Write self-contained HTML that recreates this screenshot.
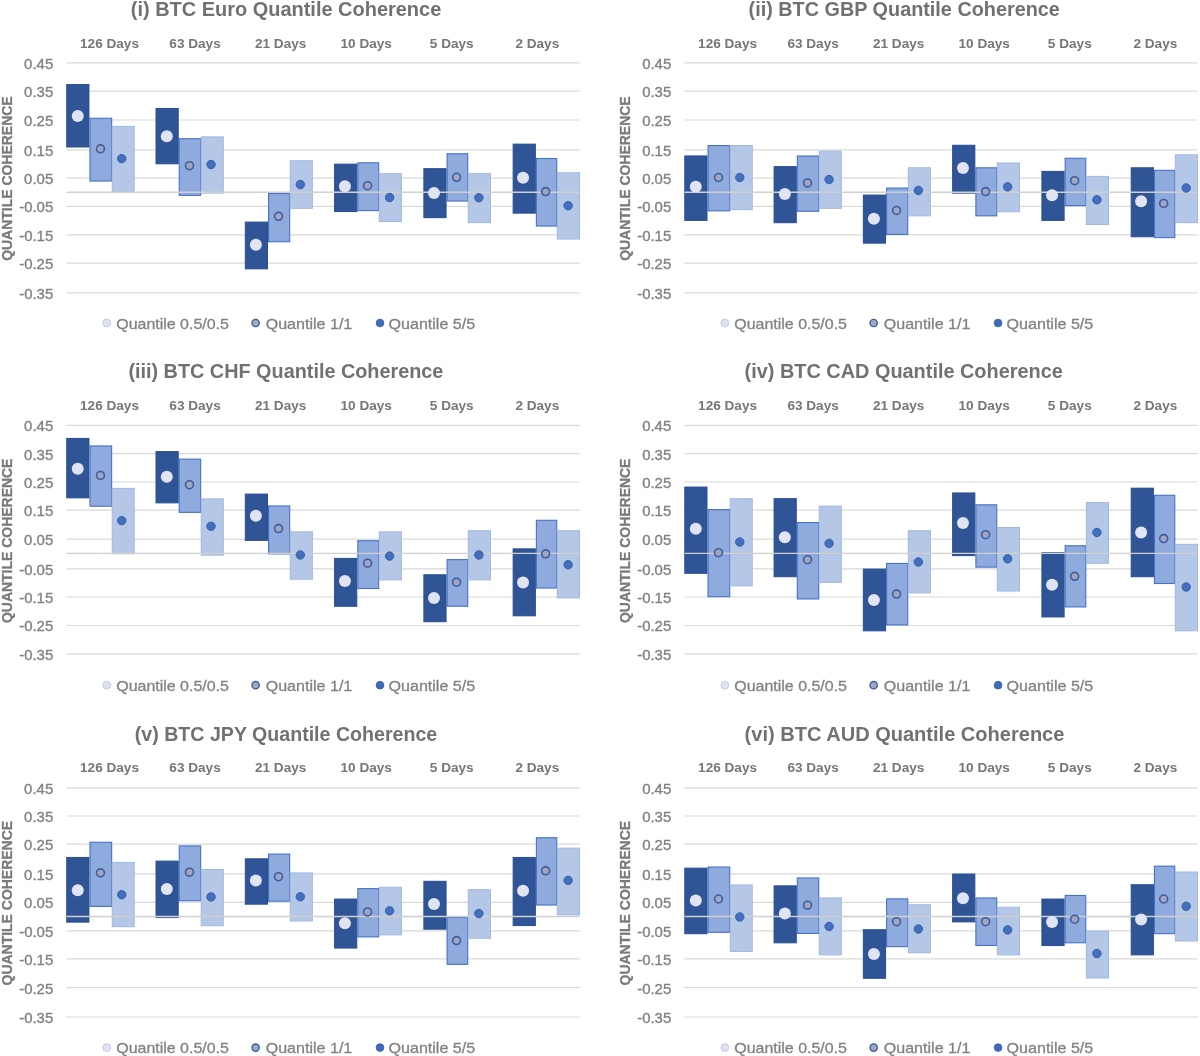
<!DOCTYPE html>
<html><head><meta charset="utf-8"><title>BTC Quantile Coherence</title>
<style>
html,body{margin:0;padding:0;background:#fff;}
body{width:1200px;height:1056px;overflow:hidden;}
svg{display:block;will-change:transform;}
text{font-family:"Liberation Sans",sans-serif;}
.ttl{font-size:20px;font-weight:bold;fill:#717171;}
.cat{font-size:13px;font-weight:bold;fill:#767676;}
.tick{font-size:14.5px;fill:#828282;stroke:#828282;stroke-width:0.35px;}
.leg{font-size:15px;fill:#828282;stroke:#828282;stroke-width:0.3px;}
.yt{font-size:15px;font-weight:bold;fill:#7A7A7A;stroke:#7A7A7A;stroke-width:0.3px;}
.grid{stroke:#D9D9D9;stroke-width:1.2;}
.axis{stroke:#D0D0D0;stroke-width:1.4;}
</style></head>
<body>
<svg width="1200" height="1056" viewBox="0 0 1200 1056">
<rect width="1200" height="1056" fill="#fff"/>
<g>
<text class="ttl" x="286" y="16.1" text-anchor="middle" textLength="310.5" lengthAdjust="spacingAndGlyphs">(i) BTC Euro Quantile Coherence</text>
<text class="cat" x="109.5" y="47.8" text-anchor="middle" textLength="58.92" lengthAdjust="spacingAndGlyphs">126 Days</text>
<text class="cat" x="195.06" y="47.8" text-anchor="middle" textLength="51.36" lengthAdjust="spacingAndGlyphs">63 Days</text>
<text class="cat" x="280.62" y="47.8" text-anchor="middle" textLength="51.36" lengthAdjust="spacingAndGlyphs">21 Days</text>
<text class="cat" x="366.18" y="47.8" text-anchor="middle" textLength="51.36" lengthAdjust="spacingAndGlyphs">10 Days</text>
<text class="cat" x="451.74" y="47.8" text-anchor="middle" textLength="43.81" lengthAdjust="spacingAndGlyphs">5 Days</text>
<text class="cat" x="537.3" y="47.8" text-anchor="middle" textLength="43.81" lengthAdjust="spacingAndGlyphs">2 Days</text>
<line class="grid" x1="66.5" x2="579.5" y1="62.95" y2="62.95"/>
<text class="tick" x="53.2" y="68.85" text-anchor="end" textLength="29.07" lengthAdjust="spacingAndGlyphs">0.45</text>
<line class="grid" x1="66.5" x2="579.5" y1="91.2" y2="91.2"/>
<text class="tick" x="53.2" y="97.1" text-anchor="end" textLength="29.07" lengthAdjust="spacingAndGlyphs">0.35</text>
<line class="grid" x1="66.5" x2="579.5" y1="120" y2="120"/>
<text class="tick" x="53.2" y="125.9" text-anchor="end" textLength="29.07" lengthAdjust="spacingAndGlyphs">0.25</text>
<line class="grid" x1="66.5" x2="579.5" y1="149.94" y2="149.94"/>
<text class="tick" x="53.2" y="155.84" text-anchor="end" textLength="29.07" lengthAdjust="spacingAndGlyphs">0.15</text>
<line class="grid" x1="66.5" x2="579.5" y1="178.2" y2="178.2"/>
<text class="tick" x="53.2" y="184.1" text-anchor="end" textLength="29.07" lengthAdjust="spacingAndGlyphs">0.05</text>
<line class="grid" x1="66.5" x2="579.5" y1="206.4" y2="206.4"/>
<text class="tick" x="53.2" y="212.3" text-anchor="end" textLength="34.04" lengthAdjust="spacingAndGlyphs">-0.05</text>
<line class="grid" x1="66.5" x2="579.5" y1="234.94" y2="234.94"/>
<text class="tick" x="53.2" y="240.84" text-anchor="end" textLength="34.04" lengthAdjust="spacingAndGlyphs">-0.15</text>
<line class="grid" x1="66.5" x2="579.5" y1="263.1" y2="263.1"/>
<text class="tick" x="53.2" y="269" text-anchor="end" textLength="34.04" lengthAdjust="spacingAndGlyphs">-0.25</text>
<line class="grid" x1="66.5" x2="579.5" y1="292.8" y2="292.8"/>
<text class="tick" x="53.2" y="298.7" text-anchor="end" textLength="34.04" lengthAdjust="spacingAndGlyphs">-0.35</text>
<rect x="66.74" y="84.59" width="22.2" height="62.41" fill="#2F5597" stroke="#284D93" stroke-width="1"/>
<rect x="89.99" y="118.28" width="21.67" height="62.76" fill="#8FAADC" stroke="#4472C4" stroke-width="1.1"/>
<rect x="112.21" y="126.41" width="21.99" height="64.91" fill="#B4C7E7" stroke="#A2B7E1" stroke-width="1"/>
<rect x="156.02" y="108.45" width="22.2" height="55.36" fill="#2F5597" stroke="#284D93" stroke-width="1"/>
<rect x="179.27" y="138.73" width="21.4" height="56.63" fill="#8FAADC" stroke="#4472C4" stroke-width="1.1"/>
<rect x="201.22" y="136.86" width="22.05" height="56.27" fill="#B4C7E7" stroke="#A2B7E1" stroke-width="1"/>
<rect x="245.31" y="222.09" width="22.2" height="46.73" fill="#2F5597" stroke="#284D93" stroke-width="1"/>
<rect x="268.56" y="193.5" width="21.13" height="48.22" fill="#8FAADC" stroke="#4472C4" stroke-width="1.1"/>
<rect x="290.24" y="160.73" width="22.1" height="47.64" fill="#B4C7E7" stroke="#A2B7E1" stroke-width="1"/>
<rect x="334.59" y="164.14" width="22.2" height="47.41" fill="#2F5597" stroke="#284D93" stroke-width="1"/>
<rect x="357.84" y="162.82" width="20.86" height="47.76" fill="#8FAADC" stroke="#4472C4" stroke-width="1.1"/>
<rect x="379.25" y="173.68" width="22.16" height="47.86" fill="#B4C7E7" stroke="#A2B7E1" stroke-width="1"/>
<rect x="423.87" y="168.68" width="22.2" height="49" fill="#2F5597" stroke="#284D93" stroke-width="1"/>
<rect x="447.12" y="153.73" width="20.59" height="47.31" fill="#8FAADC" stroke="#4472C4" stroke-width="1.1"/>
<rect x="468.27" y="173.68" width="22.21" height="49" fill="#B4C7E7" stroke="#A2B7E1" stroke-width="1"/>
<rect x="513.15" y="144.14" width="22.2" height="69" fill="#2F5597" stroke="#284D93" stroke-width="1"/>
<rect x="536.4" y="158.5" width="20.33" height="67.54" fill="#8FAADC" stroke="#4472C4" stroke-width="1.1"/>
<rect x="557.28" y="172.77" width="22.27" height="66.27" fill="#B4C7E7" stroke="#A2B7E1" stroke-width="1"/>
<line class="axis" x1="66.5" x2="579.5" y1="192.3" y2="192.3"/>
<circle cx="77.74" cy="115.91" r="6" fill="#E1E4F2"/>
<circle cx="100.44" cy="148.86" r="3.95" fill="#A0A5C2" stroke="#3F5C9C" stroke-width="1.6"/>
<circle cx="121.74" cy="158.64" r="4.2" fill="#4270BE" stroke="#345EA8" stroke-width="1"/>
<circle cx="166.8" cy="136.14" r="6" fill="#E1E4F2"/>
<circle cx="189.48" cy="165.68" r="3.95" fill="#A0A5C2" stroke="#3F5C9C" stroke-width="1.6"/>
<circle cx="211.02" cy="164.55" r="4.2" fill="#4270BE" stroke="#345EA8" stroke-width="1"/>
<circle cx="255.87" cy="244.77" r="6" fill="#E1E4F2"/>
<circle cx="278.53" cy="216.36" r="3.95" fill="#A0A5C2" stroke="#3F5C9C" stroke-width="1.6"/>
<circle cx="300.31" cy="184.55" r="4.2" fill="#4270BE" stroke="#345EA8" stroke-width="1"/>
<circle cx="344.93" cy="186.36" r="6" fill="#E1E4F2"/>
<circle cx="367.57" cy="185.68" r="3.95" fill="#A0A5C2" stroke="#3F5C9C" stroke-width="1.6"/>
<circle cx="389.59" cy="197.5" r="4.2" fill="#4270BE" stroke="#345EA8" stroke-width="1"/>
<circle cx="433.99" cy="192.95" r="6" fill="#E1E4F2"/>
<circle cx="456.61" cy="177.27" r="3.95" fill="#A0A5C2" stroke="#3F5C9C" stroke-width="1.6"/>
<circle cx="478.87" cy="197.73" r="4.2" fill="#4270BE" stroke="#345EA8" stroke-width="1"/>
<circle cx="523.06" cy="177.73" r="6" fill="#E1E4F2"/>
<circle cx="545.65" cy="191.59" r="3.95" fill="#A0A5C2" stroke="#3F5C9C" stroke-width="1.6"/>
<circle cx="568.15" cy="205.68" r="4.2" fill="#4270BE" stroke="#345EA8" stroke-width="1"/>
<text class="yt" transform="translate(11.9,178.6) rotate(-90)" text-anchor="middle" textLength="164.5" lengthAdjust="spacingAndGlyphs">QUANTILE COHERENCE</text>
<circle cx="106.8" cy="323" r="3.9" fill="#DFE2F1" stroke="#C5CBE6" stroke-width="1"/>
<text class="leg" x="116.3" y="328.7" textLength="112.6" lengthAdjust="spacingAndGlyphs">Quantile 0.5/0.5</text>
<circle cx="255.6" cy="323" r="3.65" fill="#A0A8C8" stroke="#3F5FA0" stroke-width="1.4"/>
<text class="leg" x="265.7" y="328.7" textLength="86.6" lengthAdjust="spacingAndGlyphs">Quantile 1/1</text>
<circle cx="380" cy="323" r="3.85" fill="#3F6BBA" stroke="#2F5AA8" stroke-width="0.8"/>
<text class="leg" x="388.5" y="328.7" textLength="86.7" lengthAdjust="spacingAndGlyphs">Quantile 5/5</text>
</g>
<g>
<text class="ttl" x="904.2" y="16.1" text-anchor="middle" textLength="311.2" lengthAdjust="spacingAndGlyphs">(ii) BTC GBP Quantile Coherence</text>
<text class="cat" x="727.55" y="47.8" text-anchor="middle" textLength="58.92" lengthAdjust="spacingAndGlyphs">126 Days</text>
<text class="cat" x="813.11" y="47.8" text-anchor="middle" textLength="51.36" lengthAdjust="spacingAndGlyphs">63 Days</text>
<text class="cat" x="898.67" y="47.8" text-anchor="middle" textLength="51.36" lengthAdjust="spacingAndGlyphs">21 Days</text>
<text class="cat" x="984.23" y="47.8" text-anchor="middle" textLength="51.36" lengthAdjust="spacingAndGlyphs">10 Days</text>
<text class="cat" x="1069.79" y="47.8" text-anchor="middle" textLength="43.81" lengthAdjust="spacingAndGlyphs">5 Days</text>
<text class="cat" x="1155.35" y="47.8" text-anchor="middle" textLength="43.81" lengthAdjust="spacingAndGlyphs">2 Days</text>
<line class="grid" x1="684.55" x2="1197.55" y1="62.95" y2="62.95"/>
<text class="tick" x="671.25" y="68.85" text-anchor="end" textLength="29.07" lengthAdjust="spacingAndGlyphs">0.45</text>
<line class="grid" x1="684.55" x2="1197.55" y1="91.2" y2="91.2"/>
<text class="tick" x="671.25" y="97.1" text-anchor="end" textLength="29.07" lengthAdjust="spacingAndGlyphs">0.35</text>
<line class="grid" x1="684.55" x2="1197.55" y1="120" y2="120"/>
<text class="tick" x="671.25" y="125.9" text-anchor="end" textLength="29.07" lengthAdjust="spacingAndGlyphs">0.25</text>
<line class="grid" x1="684.55" x2="1197.55" y1="149.94" y2="149.94"/>
<text class="tick" x="671.25" y="155.84" text-anchor="end" textLength="29.07" lengthAdjust="spacingAndGlyphs">0.15</text>
<line class="grid" x1="684.55" x2="1197.55" y1="178.2" y2="178.2"/>
<text class="tick" x="671.25" y="184.1" text-anchor="end" textLength="29.07" lengthAdjust="spacingAndGlyphs">0.05</text>
<line class="grid" x1="684.55" x2="1197.55" y1="206.4" y2="206.4"/>
<text class="tick" x="671.25" y="212.3" text-anchor="end" textLength="34.04" lengthAdjust="spacingAndGlyphs">-0.05</text>
<line class="grid" x1="684.55" x2="1197.55" y1="234.94" y2="234.94"/>
<text class="tick" x="671.25" y="240.84" text-anchor="end" textLength="34.04" lengthAdjust="spacingAndGlyphs">-0.15</text>
<line class="grid" x1="684.55" x2="1197.55" y1="263.1" y2="263.1"/>
<text class="tick" x="671.25" y="269" text-anchor="end" textLength="34.04" lengthAdjust="spacingAndGlyphs">-0.25</text>
<line class="grid" x1="684.55" x2="1197.55" y1="292.8" y2="292.8"/>
<text class="tick" x="671.25" y="298.7" text-anchor="end" textLength="34.04" lengthAdjust="spacingAndGlyphs">-0.35</text>
<rect x="684.79" y="155.95" width="22.2" height="64.45" fill="#2F5597" stroke="#284D93" stroke-width="1"/>
<rect x="708.04" y="145.55" width="21.67" height="65.26" fill="#8FAADC" stroke="#4472C4" stroke-width="1.1"/>
<rect x="730.26" y="145.5" width="21.99" height="64.23" fill="#B4C7E7" stroke="#A2B7E1" stroke-width="1"/>
<rect x="774.07" y="166.64" width="22.2" height="56.05" fill="#2F5597" stroke="#284D93" stroke-width="1"/>
<rect x="797.32" y="156" width="21.4" height="55.26" fill="#8FAADC" stroke="#4472C4" stroke-width="1.1"/>
<rect x="819.27" y="151.18" width="22.05" height="57.18" fill="#B4C7E7" stroke="#A2B7E1" stroke-width="1"/>
<rect x="863.36" y="195.05" width="22.2" height="48.09" fill="#2F5597" stroke="#284D93" stroke-width="1"/>
<rect x="886.61" y="188.05" width="21.13" height="46.4" fill="#8FAADC" stroke="#4472C4" stroke-width="1.1"/>
<rect x="908.29" y="167.77" width="22.1" height="48.09" fill="#B4C7E7" stroke="#A2B7E1" stroke-width="1"/>
<rect x="952.64" y="145.27" width="22.2" height="47.86" fill="#2F5597" stroke="#284D93" stroke-width="1"/>
<rect x="975.89" y="167.82" width="20.86" height="47.99" fill="#8FAADC" stroke="#4472C4" stroke-width="1.1"/>
<rect x="997.3" y="163" width="22.16" height="48.77" fill="#B4C7E7" stroke="#A2B7E1" stroke-width="1"/>
<rect x="1041.92" y="171.41" width="22.2" height="49" fill="#2F5597" stroke="#284D93" stroke-width="1"/>
<rect x="1065.17" y="158.28" width="20.59" height="47.31" fill="#8FAADC" stroke="#4472C4" stroke-width="1.1"/>
<rect x="1086.32" y="176.41" width="22.21" height="48.09" fill="#B4C7E7" stroke="#A2B7E1" stroke-width="1"/>
<rect x="1131.2" y="167.77" width="22.2" height="69" fill="#2F5597" stroke="#284D93" stroke-width="1"/>
<rect x="1154.45" y="170.32" width="20.33" height="67.31" fill="#8FAADC" stroke="#4472C4" stroke-width="1.1"/>
<rect x="1175.33" y="154.82" width="22.27" height="67.86" fill="#B4C7E7" stroke="#A2B7E1" stroke-width="1"/>
<line class="axis" x1="684.55" x2="1197.55" y1="192.3" y2="192.3"/>
<circle cx="695.79" cy="186.82" r="6" fill="#E1E4F2"/>
<circle cx="718.49" cy="177.5" r="3.95" fill="#A0A5C2" stroke="#3F5C9C" stroke-width="1.6"/>
<circle cx="739.79" cy="177.5" r="4.2" fill="#4270BE" stroke="#345EA8" stroke-width="1"/>
<circle cx="784.85" cy="194.09" r="6" fill="#E1E4F2"/>
<circle cx="807.53" cy="182.95" r="3.95" fill="#A0A5C2" stroke="#3F5C9C" stroke-width="1.6"/>
<circle cx="829.07" cy="179.55" r="4.2" fill="#4270BE" stroke="#345EA8" stroke-width="1"/>
<circle cx="873.92" cy="218.64" r="6" fill="#E1E4F2"/>
<circle cx="896.58" cy="210.45" r="3.95" fill="#A0A5C2" stroke="#3F5C9C" stroke-width="1.6"/>
<circle cx="918.36" cy="190.45" r="4.2" fill="#4270BE" stroke="#345EA8" stroke-width="1"/>
<circle cx="962.98" cy="167.95" r="6" fill="#E1E4F2"/>
<circle cx="985.62" cy="191.59" r="3.95" fill="#A0A5C2" stroke="#3F5C9C" stroke-width="1.6"/>
<circle cx="1007.64" cy="186.82" r="4.2" fill="#4270BE" stroke="#345EA8" stroke-width="1"/>
<circle cx="1052.04" cy="195.23" r="6" fill="#E1E4F2"/>
<circle cx="1074.66" cy="180.68" r="3.95" fill="#A0A5C2" stroke="#3F5C9C" stroke-width="1.6"/>
<circle cx="1096.92" cy="199.77" r="4.2" fill="#4270BE" stroke="#345EA8" stroke-width="1"/>
<circle cx="1141.11" cy="201.14" r="6" fill="#E1E4F2"/>
<circle cx="1163.7" cy="203.41" r="3.95" fill="#A0A5C2" stroke="#3F5C9C" stroke-width="1.6"/>
<circle cx="1186.2" cy="187.95" r="4.2" fill="#4270BE" stroke="#345EA8" stroke-width="1"/>
<text class="yt" transform="translate(629.95,178.6) rotate(-90)" text-anchor="middle" textLength="164.5" lengthAdjust="spacingAndGlyphs">QUANTILE COHERENCE</text>
<circle cx="724.85" cy="323" r="3.9" fill="#DFE2F1" stroke="#C5CBE6" stroke-width="1"/>
<text class="leg" x="734.35" y="328.7" textLength="112.6" lengthAdjust="spacingAndGlyphs">Quantile 0.5/0.5</text>
<circle cx="873.65" cy="323" r="3.65" fill="#A0A8C8" stroke="#3F5FA0" stroke-width="1.4"/>
<text class="leg" x="883.75" y="328.7" textLength="86.6" lengthAdjust="spacingAndGlyphs">Quantile 1/1</text>
<circle cx="998.05" cy="323" r="3.85" fill="#3F6BBA" stroke="#2F5AA8" stroke-width="0.8"/>
<text class="leg" x="1006.55" y="328.7" textLength="86.7" lengthAdjust="spacingAndGlyphs">Quantile 5/5</text>
</g>
<g>
<text class="ttl" x="285.9" y="378.3" text-anchor="middle" textLength="315" lengthAdjust="spacingAndGlyphs">(iii) BTC CHF Quantile Coherence</text>
<text class="cat" x="109.5" y="410" text-anchor="middle" textLength="58.92" lengthAdjust="spacingAndGlyphs">126 Days</text>
<text class="cat" x="195.06" y="410" text-anchor="middle" textLength="51.36" lengthAdjust="spacingAndGlyphs">63 Days</text>
<text class="cat" x="280.62" y="410" text-anchor="middle" textLength="51.36" lengthAdjust="spacingAndGlyphs">21 Days</text>
<text class="cat" x="366.18" y="410" text-anchor="middle" textLength="51.36" lengthAdjust="spacingAndGlyphs">10 Days</text>
<text class="cat" x="451.74" y="410" text-anchor="middle" textLength="43.81" lengthAdjust="spacingAndGlyphs">5 Days</text>
<text class="cat" x="537.3" y="410" text-anchor="middle" textLength="43.81" lengthAdjust="spacingAndGlyphs">2 Days</text>
<line class="grid" x1="66.5" x2="579.5" y1="425.4" y2="425.4"/>
<text class="tick" x="53.2" y="431.3" text-anchor="end" textLength="29.07" lengthAdjust="spacingAndGlyphs">0.45</text>
<line class="grid" x1="66.5" x2="579.5" y1="453.6" y2="453.6"/>
<text class="tick" x="53.2" y="459.5" text-anchor="end" textLength="29.07" lengthAdjust="spacingAndGlyphs">0.35</text>
<line class="grid" x1="66.5" x2="579.5" y1="482" y2="482"/>
<text class="tick" x="53.2" y="487.9" text-anchor="end" textLength="29.07" lengthAdjust="spacingAndGlyphs">0.25</text>
<line class="grid" x1="66.5" x2="579.5" y1="510.2" y2="510.2"/>
<text class="tick" x="53.2" y="516.1" text-anchor="end" textLength="29.07" lengthAdjust="spacingAndGlyphs">0.15</text>
<line class="grid" x1="66.5" x2="579.5" y1="539.2" y2="539.2"/>
<text class="tick" x="53.2" y="545.1" text-anchor="end" textLength="29.07" lengthAdjust="spacingAndGlyphs">0.05</text>
<line class="grid" x1="66.5" x2="579.5" y1="568.8" y2="568.8"/>
<text class="tick" x="53.2" y="574.7" text-anchor="end" textLength="34.04" lengthAdjust="spacingAndGlyphs">-0.05</text>
<line class="grid" x1="66.5" x2="579.5" y1="597" y2="597"/>
<text class="tick" x="53.2" y="602.9" text-anchor="end" textLength="34.04" lengthAdjust="spacingAndGlyphs">-0.15</text>
<line class="grid" x1="66.5" x2="579.5" y1="625.5" y2="625.5"/>
<text class="tick" x="53.2" y="631.4" text-anchor="end" textLength="34.04" lengthAdjust="spacingAndGlyphs">-0.25</text>
<line class="grid" x1="66.5" x2="579.5" y1="653.8" y2="653.8"/>
<text class="tick" x="53.2" y="659.7" text-anchor="end" textLength="34.04" lengthAdjust="spacingAndGlyphs">-0.35</text>
<rect x="66.74" y="438.41" width="22.2" height="59.45" fill="#2F5597" stroke="#284D93" stroke-width="1"/>
<rect x="89.99" y="445.96" width="21.67" height="60.26" fill="#8FAADC" stroke="#4472C4" stroke-width="1.1"/>
<rect x="112.21" y="488.41" width="21.99" height="65.36" fill="#B4C7E7" stroke="#A2B7E1" stroke-width="1"/>
<rect x="156.02" y="451.59" width="22.2" height="51.27" fill="#2F5597" stroke="#284D93" stroke-width="1"/>
<rect x="179.27" y="459.14" width="21.4" height="53.22" fill="#8FAADC" stroke="#4472C4" stroke-width="1.1"/>
<rect x="201.22" y="498.86" width="22.05" height="56.27" fill="#B4C7E7" stroke="#A2B7E1" stroke-width="1"/>
<rect x="245.31" y="494.09" width="22.2" height="46.27" fill="#2F5597" stroke="#284D93" stroke-width="1"/>
<rect x="268.56" y="505.96" width="21.13" height="47.99" fill="#8FAADC" stroke="#4472C4" stroke-width="1.1"/>
<rect x="290.24" y="531.82" width="22.1" height="47.41" fill="#B4C7E7" stroke="#A2B7E1" stroke-width="1"/>
<rect x="334.59" y="558.41" width="22.2" height="47.86" fill="#2F5597" stroke="#284D93" stroke-width="1"/>
<rect x="357.84" y="540.73" width="20.86" height="47.76" fill="#8FAADC" stroke="#4472C4" stroke-width="1.1"/>
<rect x="379.25" y="531.82" width="22.16" height="48.09" fill="#B4C7E7" stroke="#A2B7E1" stroke-width="1"/>
<rect x="423.87" y="574.77" width="22.2" height="46.95" fill="#2F5597" stroke="#284D93" stroke-width="1"/>
<rect x="447.12" y="559.6" width="20.59" height="46.63" fill="#8FAADC" stroke="#4472C4" stroke-width="1.1"/>
<rect x="468.27" y="530.68" width="22.21" height="49.23" fill="#B4C7E7" stroke="#A2B7E1" stroke-width="1"/>
<rect x="513.15" y="548.86" width="22.2" height="66.95" fill="#2F5597" stroke="#284D93" stroke-width="1"/>
<rect x="536.4" y="520.28" width="20.33" height="67.76" fill="#8FAADC" stroke="#4472C4" stroke-width="1.1"/>
<rect x="557.28" y="530.68" width="22.27" height="67.18" fill="#B4C7E7" stroke="#A2B7E1" stroke-width="1"/>
<line class="axis" x1="66.5" x2="579.5" y1="553.4" y2="553.4"/>
<circle cx="77.74" cy="468.82" r="6" fill="#E1E4F2"/>
<circle cx="100.44" cy="475.41" r="3.95" fill="#A0A5C2" stroke="#3F5C9C" stroke-width="1.6"/>
<circle cx="121.74" cy="520.64" r="4.2" fill="#4270BE" stroke="#345EA8" stroke-width="1"/>
<circle cx="166.8" cy="476.77" r="6" fill="#E1E4F2"/>
<circle cx="189.48" cy="484.73" r="3.95" fill="#A0A5C2" stroke="#3F5C9C" stroke-width="1.6"/>
<circle cx="211.02" cy="526.32" r="4.2" fill="#4270BE" stroke="#345EA8" stroke-width="1"/>
<circle cx="255.87" cy="515.86" r="6" fill="#E1E4F2"/>
<circle cx="278.53" cy="528.59" r="3.95" fill="#A0A5C2" stroke="#3F5C9C" stroke-width="1.6"/>
<circle cx="300.31" cy="554.95" r="4.2" fill="#4270BE" stroke="#345EA8" stroke-width="1"/>
<circle cx="344.93" cy="581.09" r="6" fill="#E1E4F2"/>
<circle cx="367.57" cy="563.14" r="3.95" fill="#A0A5C2" stroke="#3F5C9C" stroke-width="1.6"/>
<circle cx="389.59" cy="556.09" r="4.2" fill="#4270BE" stroke="#345EA8" stroke-width="1"/>
<circle cx="433.99" cy="597.91" r="6" fill="#E1E4F2"/>
<circle cx="456.61" cy="582.23" r="3.95" fill="#A0A5C2" stroke="#3F5C9C" stroke-width="1.6"/>
<circle cx="478.87" cy="554.95" r="4.2" fill="#4270BE" stroke="#345EA8" stroke-width="1"/>
<circle cx="523.06" cy="582.45" r="6" fill="#E1E4F2"/>
<circle cx="545.65" cy="553.82" r="3.95" fill="#A0A5C2" stroke="#3F5C9C" stroke-width="1.6"/>
<circle cx="568.15" cy="564.73" r="4.2" fill="#4270BE" stroke="#345EA8" stroke-width="1"/>
<text class="yt" transform="translate(11.9,540.8) rotate(-90)" text-anchor="middle" textLength="164.5" lengthAdjust="spacingAndGlyphs">QUANTILE COHERENCE</text>
<circle cx="106.8" cy="685.2" r="3.9" fill="#DFE2F1" stroke="#C5CBE6" stroke-width="1"/>
<text class="leg" x="116.3" y="690.9" textLength="112.6" lengthAdjust="spacingAndGlyphs">Quantile 0.5/0.5</text>
<circle cx="255.6" cy="685.2" r="3.65" fill="#A0A8C8" stroke="#3F5FA0" stroke-width="1.4"/>
<text class="leg" x="265.7" y="690.9" textLength="86.6" lengthAdjust="spacingAndGlyphs">Quantile 1/1</text>
<circle cx="380" cy="685.2" r="3.85" fill="#3F6BBA" stroke="#2F5AA8" stroke-width="0.8"/>
<text class="leg" x="388.5" y="690.9" textLength="86.7" lengthAdjust="spacingAndGlyphs">Quantile 5/5</text>
</g>
<g>
<text class="ttl" x="903.7" y="378.3" text-anchor="middle" textLength="318.2" lengthAdjust="spacingAndGlyphs">(iv) BTC CAD Quantile Coherence</text>
<text class="cat" x="727.55" y="410" text-anchor="middle" textLength="58.92" lengthAdjust="spacingAndGlyphs">126 Days</text>
<text class="cat" x="813.11" y="410" text-anchor="middle" textLength="51.36" lengthAdjust="spacingAndGlyphs">63 Days</text>
<text class="cat" x="898.67" y="410" text-anchor="middle" textLength="51.36" lengthAdjust="spacingAndGlyphs">21 Days</text>
<text class="cat" x="984.23" y="410" text-anchor="middle" textLength="51.36" lengthAdjust="spacingAndGlyphs">10 Days</text>
<text class="cat" x="1069.79" y="410" text-anchor="middle" textLength="43.81" lengthAdjust="spacingAndGlyphs">5 Days</text>
<text class="cat" x="1155.35" y="410" text-anchor="middle" textLength="43.81" lengthAdjust="spacingAndGlyphs">2 Days</text>
<line class="grid" x1="684.55" x2="1197.55" y1="425.4" y2="425.4"/>
<text class="tick" x="671.25" y="431.3" text-anchor="end" textLength="29.07" lengthAdjust="spacingAndGlyphs">0.45</text>
<line class="grid" x1="684.55" x2="1197.55" y1="453.6" y2="453.6"/>
<text class="tick" x="671.25" y="459.5" text-anchor="end" textLength="29.07" lengthAdjust="spacingAndGlyphs">0.35</text>
<line class="grid" x1="684.55" x2="1197.55" y1="482" y2="482"/>
<text class="tick" x="671.25" y="487.9" text-anchor="end" textLength="29.07" lengthAdjust="spacingAndGlyphs">0.25</text>
<line class="grid" x1="684.55" x2="1197.55" y1="510.2" y2="510.2"/>
<text class="tick" x="671.25" y="516.1" text-anchor="end" textLength="29.07" lengthAdjust="spacingAndGlyphs">0.15</text>
<line class="grid" x1="684.55" x2="1197.55" y1="539.2" y2="539.2"/>
<text class="tick" x="671.25" y="545.1" text-anchor="end" textLength="29.07" lengthAdjust="spacingAndGlyphs">0.05</text>
<line class="grid" x1="684.55" x2="1197.55" y1="568.8" y2="568.8"/>
<text class="tick" x="671.25" y="574.7" text-anchor="end" textLength="34.04" lengthAdjust="spacingAndGlyphs">-0.05</text>
<line class="grid" x1="684.55" x2="1197.55" y1="597" y2="597"/>
<text class="tick" x="671.25" y="602.9" text-anchor="end" textLength="34.04" lengthAdjust="spacingAndGlyphs">-0.15</text>
<line class="grid" x1="684.55" x2="1197.55" y1="625.5" y2="625.5"/>
<text class="tick" x="671.25" y="631.4" text-anchor="end" textLength="34.04" lengthAdjust="spacingAndGlyphs">-0.25</text>
<line class="grid" x1="684.55" x2="1197.55" y1="653.8" y2="653.8"/>
<text class="tick" x="671.25" y="659.7" text-anchor="end" textLength="34.04" lengthAdjust="spacingAndGlyphs">-0.35</text>
<rect x="684.79" y="487.05" width="22.2" height="86.27" fill="#2F5597" stroke="#284D93" stroke-width="1"/>
<rect x="708.04" y="509.6" width="21.67" height="87.08" fill="#8FAADC" stroke="#4472C4" stroke-width="1.1"/>
<rect x="730.26" y="498.64" width="21.99" height="87.18" fill="#B4C7E7" stroke="#A2B7E1" stroke-width="1"/>
<rect x="774.07" y="498.64" width="22.2" height="78.09" fill="#2F5597" stroke="#284D93" stroke-width="1"/>
<rect x="797.32" y="522.55" width="21.4" height="76.4" fill="#8FAADC" stroke="#4472C4" stroke-width="1.1"/>
<rect x="819.27" y="506.14" width="22.05" height="76.27" fill="#B4C7E7" stroke="#A2B7E1" stroke-width="1"/>
<rect x="863.36" y="569.09" width="22.2" height="61.73" fill="#2F5597" stroke="#284D93" stroke-width="1"/>
<rect x="886.61" y="563.46" width="21.13" height="61.4" fill="#8FAADC" stroke="#4472C4" stroke-width="1.1"/>
<rect x="908.29" y="530.68" width="22.1" height="62.18" fill="#B4C7E7" stroke="#A2B7E1" stroke-width="1"/>
<rect x="952.64" y="492.95" width="22.2" height="62.64" fill="#2F5597" stroke="#284D93" stroke-width="1"/>
<rect x="975.89" y="504.82" width="20.86" height="62.31" fill="#8FAADC" stroke="#4472C4" stroke-width="1.1"/>
<rect x="997.3" y="527.5" width="22.16" height="63.55" fill="#B4C7E7" stroke="#A2B7E1" stroke-width="1"/>
<rect x="1041.92" y="552.73" width="22.2" height="64.23" fill="#2F5597" stroke="#284D93" stroke-width="1"/>
<rect x="1065.17" y="545.73" width="20.59" height="61.17" fill="#8FAADC" stroke="#4472C4" stroke-width="1.1"/>
<rect x="1086.32" y="502.5" width="22.21" height="60.82" fill="#B4C7E7" stroke="#A2B7E1" stroke-width="1"/>
<rect x="1131.2" y="488.18" width="22.2" height="88.55" fill="#2F5597" stroke="#284D93" stroke-width="1"/>
<rect x="1154.45" y="495.28" width="20.33" height="88.22" fill="#8FAADC" stroke="#4472C4" stroke-width="1.1"/>
<rect x="1175.33" y="544.32" width="22.27" height="86.5" fill="#B4C7E7" stroke="#A2B7E1" stroke-width="1"/>
<line class="axis" x1="684.55" x2="1197.55" y1="553.4" y2="553.4"/>
<circle cx="695.79" cy="528.82" r="6" fill="#E1E4F2"/>
<circle cx="718.49" cy="552.68" r="3.95" fill="#A0A5C2" stroke="#3F5C9C" stroke-width="1.6"/>
<circle cx="739.79" cy="542" r="4.2" fill="#4270BE" stroke="#345EA8" stroke-width="1"/>
<circle cx="784.85" cy="537.23" r="6" fill="#E1E4F2"/>
<circle cx="807.53" cy="559.73" r="3.95" fill="#A0A5C2" stroke="#3F5C9C" stroke-width="1.6"/>
<circle cx="829.07" cy="543.36" r="4.2" fill="#4270BE" stroke="#345EA8" stroke-width="1"/>
<circle cx="873.92" cy="599.95" r="6" fill="#E1E4F2"/>
<circle cx="896.58" cy="594.05" r="3.95" fill="#A0A5C2" stroke="#3F5C9C" stroke-width="1.6"/>
<circle cx="918.36" cy="562" r="4.2" fill="#4270BE" stroke="#345EA8" stroke-width="1"/>
<circle cx="962.98" cy="522.91" r="6" fill="#E1E4F2"/>
<circle cx="985.62" cy="534.73" r="3.95" fill="#A0A5C2" stroke="#3F5C9C" stroke-width="1.6"/>
<circle cx="1007.64" cy="558.82" r="4.2" fill="#4270BE" stroke="#345EA8" stroke-width="1"/>
<circle cx="1052.04" cy="584.73" r="6" fill="#E1E4F2"/>
<circle cx="1074.66" cy="576.32" r="3.95" fill="#A0A5C2" stroke="#3F5C9C" stroke-width="1.6"/>
<circle cx="1096.92" cy="532.45" r="4.2" fill="#4270BE" stroke="#345EA8" stroke-width="1"/>
<circle cx="1141.11" cy="532.45" r="6" fill="#E1E4F2"/>
<circle cx="1163.7" cy="538.59" r="3.95" fill="#A0A5C2" stroke="#3F5C9C" stroke-width="1.6"/>
<circle cx="1186.2" cy="587" r="4.2" fill="#4270BE" stroke="#345EA8" stroke-width="1"/>
<text class="yt" transform="translate(629.95,540.8) rotate(-90)" text-anchor="middle" textLength="164.5" lengthAdjust="spacingAndGlyphs">QUANTILE COHERENCE</text>
<circle cx="724.85" cy="685.2" r="3.9" fill="#DFE2F1" stroke="#C5CBE6" stroke-width="1"/>
<text class="leg" x="734.35" y="690.9" textLength="112.6" lengthAdjust="spacingAndGlyphs">Quantile 0.5/0.5</text>
<circle cx="873.65" cy="685.2" r="3.65" fill="#A0A8C8" stroke="#3F5FA0" stroke-width="1.4"/>
<text class="leg" x="883.75" y="690.9" textLength="86.6" lengthAdjust="spacingAndGlyphs">Quantile 1/1</text>
<circle cx="998.05" cy="685.2" r="3.85" fill="#3F6BBA" stroke="#2F5AA8" stroke-width="0.8"/>
<text class="leg" x="1006.55" y="690.9" textLength="86.7" lengthAdjust="spacingAndGlyphs">Quantile 5/5</text>
</g>
<g>
<text class="ttl" x="286" y="740.7" text-anchor="middle" textLength="302.5" lengthAdjust="spacingAndGlyphs">(v) BTC JPY Quantile Coherence</text>
<text class="cat" x="109.5" y="772.4" text-anchor="middle" textLength="58.92" lengthAdjust="spacingAndGlyphs">126 Days</text>
<text class="cat" x="195.06" y="772.4" text-anchor="middle" textLength="51.36" lengthAdjust="spacingAndGlyphs">63 Days</text>
<text class="cat" x="280.62" y="772.4" text-anchor="middle" textLength="51.36" lengthAdjust="spacingAndGlyphs">21 Days</text>
<text class="cat" x="366.18" y="772.4" text-anchor="middle" textLength="51.36" lengthAdjust="spacingAndGlyphs">10 Days</text>
<text class="cat" x="451.74" y="772.4" text-anchor="middle" textLength="43.81" lengthAdjust="spacingAndGlyphs">5 Days</text>
<text class="cat" x="537.3" y="772.4" text-anchor="middle" textLength="43.81" lengthAdjust="spacingAndGlyphs">2 Days</text>
<line class="grid" x1="66.5" x2="579.5" y1="787.8" y2="787.8"/>
<text class="tick" x="53.2" y="793.7" text-anchor="end" textLength="29.07" lengthAdjust="spacingAndGlyphs">0.45</text>
<line class="grid" x1="66.5" x2="579.5" y1="816" y2="816"/>
<text class="tick" x="53.2" y="821.9" text-anchor="end" textLength="29.07" lengthAdjust="spacingAndGlyphs">0.35</text>
<line class="grid" x1="66.5" x2="579.5" y1="844.2" y2="844.2"/>
<text class="tick" x="53.2" y="850.1" text-anchor="end" textLength="29.07" lengthAdjust="spacingAndGlyphs">0.25</text>
<line class="grid" x1="66.5" x2="579.5" y1="873.9" y2="873.9"/>
<text class="tick" x="53.2" y="879.8" text-anchor="end" textLength="29.07" lengthAdjust="spacingAndGlyphs">0.15</text>
<line class="grid" x1="66.5" x2="579.5" y1="902.3" y2="902.3"/>
<text class="tick" x="53.2" y="908.2" text-anchor="end" textLength="29.07" lengthAdjust="spacingAndGlyphs">0.05</text>
<line class="grid" x1="66.5" x2="579.5" y1="930.9" y2="930.9"/>
<text class="tick" x="53.2" y="936.8" text-anchor="end" textLength="34.04" lengthAdjust="spacingAndGlyphs">-0.05</text>
<line class="grid" x1="66.5" x2="579.5" y1="958.9" y2="958.9"/>
<text class="tick" x="53.2" y="964.8" text-anchor="end" textLength="34.04" lengthAdjust="spacingAndGlyphs">-0.15</text>
<line class="grid" x1="66.5" x2="579.5" y1="987.7" y2="987.7"/>
<text class="tick" x="53.2" y="993.6" text-anchor="end" textLength="34.04" lengthAdjust="spacingAndGlyphs">-0.25</text>
<line class="grid" x1="66.5" x2="579.5" y1="1017" y2="1017"/>
<text class="tick" x="53.2" y="1022.9" text-anchor="end" textLength="34.04" lengthAdjust="spacingAndGlyphs">-0.35</text>
<rect x="66.74" y="857.45" width="22.2" height="64.68" fill="#2F5597" stroke="#284D93" stroke-width="1"/>
<rect x="89.99" y="842.28" width="21.67" height="64.13" fill="#8FAADC" stroke="#4472C4" stroke-width="1.1"/>
<rect x="112.21" y="862.45" width="21.99" height="64.23" fill="#B4C7E7" stroke="#A2B7E1" stroke-width="1"/>
<rect x="156.02" y="861.09" width="22.2" height="56.5" fill="#2F5597" stroke="#284D93" stroke-width="1"/>
<rect x="179.27" y="845.91" width="21.4" height="54.81" fill="#8FAADC" stroke="#4472C4" stroke-width="1.1"/>
<rect x="201.22" y="869.5" width="22.05" height="56.27" fill="#B4C7E7" stroke="#A2B7E1" stroke-width="1"/>
<rect x="245.31" y="858.82" width="22.2" height="45.36" fill="#2F5597" stroke="#284D93" stroke-width="1"/>
<rect x="268.56" y="854.1" width="21.13" height="47.08" fill="#8FAADC" stroke="#4472C4" stroke-width="1.1"/>
<rect x="290.24" y="872.91" width="22.1" height="48.09" fill="#B4C7E7" stroke="#A2B7E1" stroke-width="1"/>
<rect x="334.59" y="899.05" width="22.2" height="49" fill="#2F5597" stroke="#284D93" stroke-width="1"/>
<rect x="357.84" y="888.64" width="20.86" height="48.22" fill="#8FAADC" stroke="#4472C4" stroke-width="1.1"/>
<rect x="379.25" y="887.23" width="22.16" height="47.64" fill="#B4C7E7" stroke="#A2B7E1" stroke-width="1"/>
<rect x="423.87" y="881.32" width="22.2" height="47.86" fill="#2F5597" stroke="#284D93" stroke-width="1"/>
<rect x="447.12" y="917.5" width="20.59" height="46.85" fill="#8FAADC" stroke="#4472C4" stroke-width="1.1"/>
<rect x="468.27" y="889.73" width="22.21" height="48.55" fill="#B4C7E7" stroke="#A2B7E1" stroke-width="1"/>
<rect x="513.15" y="857.45" width="22.2" height="68.09" fill="#2F5597" stroke="#284D93" stroke-width="1"/>
<rect x="536.4" y="837.73" width="20.33" height="67.31" fill="#8FAADC" stroke="#4472C4" stroke-width="1.1"/>
<rect x="557.28" y="848.14" width="22.27" height="66.73" fill="#B4C7E7" stroke="#A2B7E1" stroke-width="1"/>
<line class="axis" x1="66.5" x2="579.5" y1="916.5" y2="916.5"/>
<circle cx="77.74" cy="890.14" r="6" fill="#E1E4F2"/>
<circle cx="100.44" cy="872.86" r="3.95" fill="#A0A5C2" stroke="#3F5C9C" stroke-width="1.6"/>
<circle cx="121.74" cy="894.68" r="4.2" fill="#4270BE" stroke="#345EA8" stroke-width="1"/>
<circle cx="166.8" cy="889" r="6" fill="#E1E4F2"/>
<circle cx="189.48" cy="872.18" r="3.95" fill="#A0A5C2" stroke="#3F5C9C" stroke-width="1.6"/>
<circle cx="211.02" cy="896.95" r="4.2" fill="#4270BE" stroke="#345EA8" stroke-width="1"/>
<circle cx="255.87" cy="880.59" r="6" fill="#E1E4F2"/>
<circle cx="278.53" cy="876.73" r="3.95" fill="#A0A5C2" stroke="#3F5C9C" stroke-width="1.6"/>
<circle cx="300.31" cy="896.73" r="4.2" fill="#4270BE" stroke="#345EA8" stroke-width="1"/>
<circle cx="344.93" cy="923.32" r="6" fill="#E1E4F2"/>
<circle cx="367.57" cy="911.95" r="3.95" fill="#A0A5C2" stroke="#3F5C9C" stroke-width="1.6"/>
<circle cx="389.59" cy="910.82" r="4.2" fill="#4270BE" stroke="#345EA8" stroke-width="1"/>
<circle cx="433.99" cy="904" r="6" fill="#E1E4F2"/>
<circle cx="456.61" cy="940.59" r="3.95" fill="#A0A5C2" stroke="#3F5C9C" stroke-width="1.6"/>
<circle cx="478.87" cy="913.55" r="4.2" fill="#4270BE" stroke="#345EA8" stroke-width="1"/>
<circle cx="523.06" cy="890.82" r="6" fill="#E1E4F2"/>
<circle cx="545.65" cy="870.82" r="3.95" fill="#A0A5C2" stroke="#3F5C9C" stroke-width="1.6"/>
<circle cx="568.15" cy="880.36" r="4.2" fill="#4270BE" stroke="#345EA8" stroke-width="1"/>
<text class="yt" transform="translate(11.9,903.2) rotate(-90)" text-anchor="middle" textLength="164.5" lengthAdjust="spacingAndGlyphs">QUANTILE COHERENCE</text>
<circle cx="106.8" cy="1047.6" r="3.9" fill="#DFE2F1" stroke="#C5CBE6" stroke-width="1"/>
<text class="leg" x="116.3" y="1053.3" textLength="112.6" lengthAdjust="spacingAndGlyphs">Quantile 0.5/0.5</text>
<circle cx="255.6" cy="1047.6" r="3.65" fill="#A0A8C8" stroke="#3F5FA0" stroke-width="1.4"/>
<text class="leg" x="265.7" y="1053.3" textLength="86.6" lengthAdjust="spacingAndGlyphs">Quantile 1/1</text>
<circle cx="380" cy="1047.6" r="3.85" fill="#3F6BBA" stroke="#2F5AA8" stroke-width="0.8"/>
<text class="leg" x="388.5" y="1053.3" textLength="86.7" lengthAdjust="spacingAndGlyphs">Quantile 5/5</text>
</g>
<g>
<text class="ttl" x="904.5" y="740.7" text-anchor="middle" textLength="319.8" lengthAdjust="spacingAndGlyphs">(vi) BTC AUD Quantile Coherence</text>
<text class="cat" x="727.55" y="772.4" text-anchor="middle" textLength="58.92" lengthAdjust="spacingAndGlyphs">126 Days</text>
<text class="cat" x="813.11" y="772.4" text-anchor="middle" textLength="51.36" lengthAdjust="spacingAndGlyphs">63 Days</text>
<text class="cat" x="898.67" y="772.4" text-anchor="middle" textLength="51.36" lengthAdjust="spacingAndGlyphs">21 Days</text>
<text class="cat" x="984.23" y="772.4" text-anchor="middle" textLength="51.36" lengthAdjust="spacingAndGlyphs">10 Days</text>
<text class="cat" x="1069.79" y="772.4" text-anchor="middle" textLength="43.81" lengthAdjust="spacingAndGlyphs">5 Days</text>
<text class="cat" x="1155.35" y="772.4" text-anchor="middle" textLength="43.81" lengthAdjust="spacingAndGlyphs">2 Days</text>
<line class="grid" x1="684.55" x2="1197.55" y1="787.8" y2="787.8"/>
<text class="tick" x="671.25" y="793.7" text-anchor="end" textLength="29.07" lengthAdjust="spacingAndGlyphs">0.45</text>
<line class="grid" x1="684.55" x2="1197.55" y1="816" y2="816"/>
<text class="tick" x="671.25" y="821.9" text-anchor="end" textLength="29.07" lengthAdjust="spacingAndGlyphs">0.35</text>
<line class="grid" x1="684.55" x2="1197.55" y1="844.2" y2="844.2"/>
<text class="tick" x="671.25" y="850.1" text-anchor="end" textLength="29.07" lengthAdjust="spacingAndGlyphs">0.25</text>
<line class="grid" x1="684.55" x2="1197.55" y1="873.9" y2="873.9"/>
<text class="tick" x="671.25" y="879.8" text-anchor="end" textLength="29.07" lengthAdjust="spacingAndGlyphs">0.15</text>
<line class="grid" x1="684.55" x2="1197.55" y1="902.3" y2="902.3"/>
<text class="tick" x="671.25" y="908.2" text-anchor="end" textLength="29.07" lengthAdjust="spacingAndGlyphs">0.05</text>
<line class="grid" x1="684.55" x2="1197.55" y1="930.9" y2="930.9"/>
<text class="tick" x="671.25" y="936.8" text-anchor="end" textLength="34.04" lengthAdjust="spacingAndGlyphs">-0.05</text>
<line class="grid" x1="684.55" x2="1197.55" y1="958.9" y2="958.9"/>
<text class="tick" x="671.25" y="964.8" text-anchor="end" textLength="34.04" lengthAdjust="spacingAndGlyphs">-0.15</text>
<line class="grid" x1="684.55" x2="1197.55" y1="987.7" y2="987.7"/>
<text class="tick" x="671.25" y="993.6" text-anchor="end" textLength="34.04" lengthAdjust="spacingAndGlyphs">-0.25</text>
<line class="grid" x1="684.55" x2="1197.55" y1="1017" y2="1017"/>
<text class="tick" x="671.25" y="1022.9" text-anchor="end" textLength="34.04" lengthAdjust="spacingAndGlyphs">-0.35</text>
<rect x="684.79" y="868.14" width="22.2" height="65.59" fill="#2F5597" stroke="#284D93" stroke-width="1"/>
<rect x="708.04" y="867.05" width="21.67" height="65.26" fill="#8FAADC" stroke="#4472C4" stroke-width="1.1"/>
<rect x="730.26" y="884.95" width="21.99" height="66.5" fill="#B4C7E7" stroke="#A2B7E1" stroke-width="1"/>
<rect x="774.07" y="885.86" width="22.2" height="56.95" fill="#2F5597" stroke="#284D93" stroke-width="1"/>
<rect x="797.32" y="877.96" width="21.4" height="55.49" fill="#8FAADC" stroke="#4472C4" stroke-width="1.1"/>
<rect x="819.27" y="897.91" width="22.05" height="56.95" fill="#B4C7E7" stroke="#A2B7E1" stroke-width="1"/>
<rect x="863.36" y="929.73" width="22.2" height="48.55" fill="#2F5597" stroke="#284D93" stroke-width="1"/>
<rect x="886.61" y="898.87" width="21.13" height="47.76" fill="#8FAADC" stroke="#4472C4" stroke-width="1.1"/>
<rect x="908.29" y="904.73" width="22.1" height="48.09" fill="#B4C7E7" stroke="#A2B7E1" stroke-width="1"/>
<rect x="952.64" y="874.05" width="22.2" height="47.86" fill="#2F5597" stroke="#284D93" stroke-width="1"/>
<rect x="975.89" y="897.96" width="20.86" height="47.54" fill="#8FAADC" stroke="#4472C4" stroke-width="1.1"/>
<rect x="997.3" y="907.23" width="22.16" height="47.64" fill="#B4C7E7" stroke="#A2B7E1" stroke-width="1"/>
<rect x="1041.92" y="899.05" width="22.2" height="46.5" fill="#2F5597" stroke="#284D93" stroke-width="1"/>
<rect x="1065.17" y="895.46" width="20.59" height="47.31" fill="#8FAADC" stroke="#4472C4" stroke-width="1.1"/>
<rect x="1086.32" y="931.09" width="22.21" height="46.95" fill="#B4C7E7" stroke="#A2B7E1" stroke-width="1"/>
<rect x="1131.2" y="884.73" width="22.2" height="70.14" fill="#2F5597" stroke="#284D93" stroke-width="1"/>
<rect x="1154.45" y="866.14" width="20.33" height="67.54" fill="#8FAADC" stroke="#4472C4" stroke-width="1.1"/>
<rect x="1175.33" y="872" width="22.27" height="69" fill="#B4C7E7" stroke="#A2B7E1" stroke-width="1"/>
<line class="axis" x1="684.55" x2="1197.55" y1="916.5" y2="916.5"/>
<circle cx="695.79" cy="900.59" r="6" fill="#E1E4F2"/>
<circle cx="718.49" cy="899" r="3.95" fill="#A0A5C2" stroke="#3F5C9C" stroke-width="1.6"/>
<circle cx="739.79" cy="916.95" r="4.2" fill="#4270BE" stroke="#345EA8" stroke-width="1"/>
<circle cx="784.85" cy="913.55" r="6" fill="#E1E4F2"/>
<circle cx="807.53" cy="905.14" r="3.95" fill="#A0A5C2" stroke="#3F5C9C" stroke-width="1.6"/>
<circle cx="829.07" cy="926.5" r="4.2" fill="#4270BE" stroke="#345EA8" stroke-width="1"/>
<circle cx="873.92" cy="954" r="6" fill="#E1E4F2"/>
<circle cx="896.58" cy="921.73" r="3.95" fill="#A0A5C2" stroke="#3F5C9C" stroke-width="1.6"/>
<circle cx="918.36" cy="929" r="4.2" fill="#4270BE" stroke="#345EA8" stroke-width="1"/>
<circle cx="962.98" cy="898.32" r="6" fill="#E1E4F2"/>
<circle cx="985.62" cy="921.73" r="3.95" fill="#A0A5C2" stroke="#3F5C9C" stroke-width="1.6"/>
<circle cx="1007.64" cy="929.91" r="4.2" fill="#4270BE" stroke="#345EA8" stroke-width="1"/>
<circle cx="1052.04" cy="921.95" r="6" fill="#E1E4F2"/>
<circle cx="1074.66" cy="919.23" r="3.95" fill="#A0A5C2" stroke="#3F5C9C" stroke-width="1.6"/>
<circle cx="1096.92" cy="953.55" r="4.2" fill="#4270BE" stroke="#345EA8" stroke-width="1"/>
<circle cx="1141.11" cy="919.45" r="6" fill="#E1E4F2"/>
<circle cx="1163.7" cy="899" r="3.95" fill="#A0A5C2" stroke="#3F5C9C" stroke-width="1.6"/>
<circle cx="1186.2" cy="906.27" r="4.2" fill="#4270BE" stroke="#345EA8" stroke-width="1"/>
<text class="yt" transform="translate(629.95,903.2) rotate(-90)" text-anchor="middle" textLength="164.5" lengthAdjust="spacingAndGlyphs">QUANTILE COHERENCE</text>
<circle cx="724.85" cy="1047.6" r="3.9" fill="#DFE2F1" stroke="#C5CBE6" stroke-width="1"/>
<text class="leg" x="734.35" y="1053.3" textLength="112.6" lengthAdjust="spacingAndGlyphs">Quantile 0.5/0.5</text>
<circle cx="873.65" cy="1047.6" r="3.65" fill="#A0A8C8" stroke="#3F5FA0" stroke-width="1.4"/>
<text class="leg" x="883.75" y="1053.3" textLength="86.6" lengthAdjust="spacingAndGlyphs">Quantile 1/1</text>
<circle cx="998.05" cy="1047.6" r="3.85" fill="#3F6BBA" stroke="#2F5AA8" stroke-width="0.8"/>
<text class="leg" x="1006.55" y="1053.3" textLength="86.7" lengthAdjust="spacingAndGlyphs">Quantile 5/5</text>
</g>
</svg>
</body></html>
